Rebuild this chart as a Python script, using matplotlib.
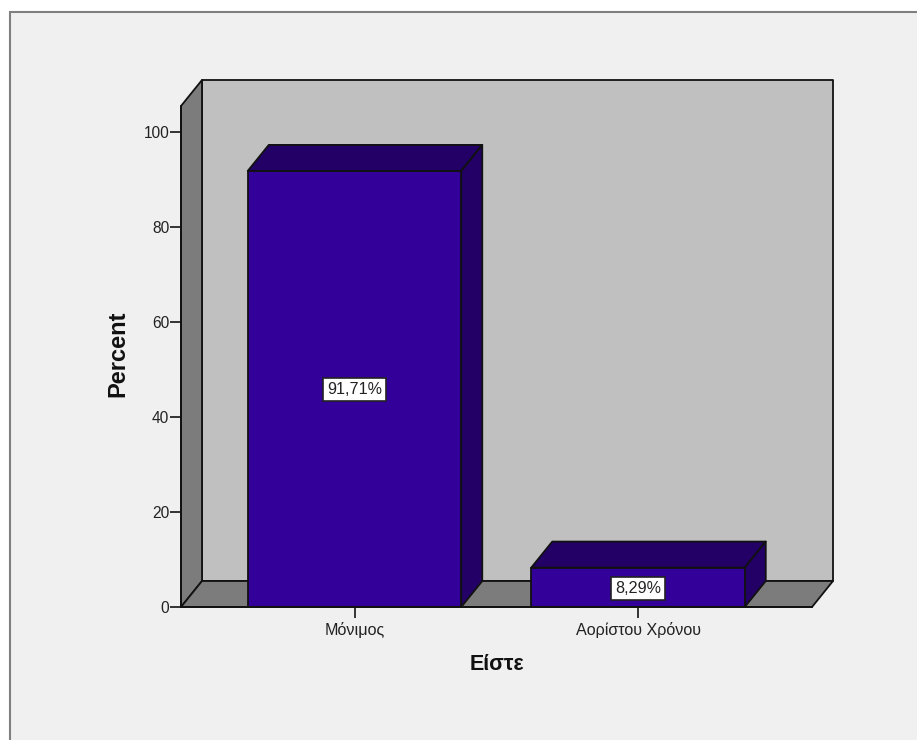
import matplotlib.pyplot as plt
from matplotlib.patches import Polygon, Rectangle

categories = ['Μόνιμος', 'Αορίστου Χρόνου']
percents = [91.71, 8.29]
percent_labels = ['91,71%', '8,29%']
y_ticks = [0, 20, 40, 60, 80, 100]

W, H = 917, 740
FRONT = '#330099'
SHADE = '#220066'
WALL = '#c0c0c0'
SIDE = '#7c7c7c'
PANEL = '#f0f0f0'

plt.rcParams['font.family'] = ['Liberation Sans', 'DejaVu Sans']

fig = plt.figure(figsize=(W / 100, H / 100), dpi=100, facecolor='white')

# chart panel runs off the right and bottom edges
fig.add_artist(Rectangle((10 / W, -0.02), 1, 1 - 12 / H + 0.02, transform=fig.transFigure,
                         facecolor=PANEL, edgecolor='#808080', linewidth=1.5, zorder=-1))

left, right, top, bottom = 181, 812, 106, 607
ax = fig.add_axes([left / W, 1 - bottom / H, (right - left) / W, (bottom - top) / H])
ax.patch.set_visible(False)

x_unit = 283.5
y_unit = 4.755
ax.set_xlim((left - 354.5) / x_unit, (right - 354.5) / x_unit)
ax.set_ylim(0, (bottom - top) / y_unit)

# depth of the 3D effect, in data units
dx = 21 / x_unit
dy = 26 / y_unit
x0, x1 = ax.get_xlim()
y1 = ax.get_ylim()[1]
bar_width = 213.5 / x_unit


def face(points, color, z):
    ax.add_patch(Polygon(points, closed=True, facecolor=color, edgecolor='#111111',
                         linewidth=1.3, joinstyle='round', clip_on=False, zorder=z))


face([(x0 + dx, dy), (x1 + dx, dy), (x1 + dx, y1 + dy), (x0 + dx, y1 + dy)], WALL, 1)
face([(x0, 0), (x0 + dx, dy), (x0 + dx, y1 + dy), (x0, y1)], SIDE, 1)
face([(x0, 0), (x1, 0), (x1 + dx, dy), (x0 + dx, dy)], SIDE, 1)

for i, value in enumerate(percents):
    a = i - bar_width / 2
    b = i + bar_width / 2
    face([(a, value), (b, value), (b + dx, value + dy), (a + dx, value + dy)], SHADE, 2)
    face([(b, 0), (b + dx, dy), (b + dx, value + dy), (b, value)], SHADE, 2)

ax.bar(range(len(percents)), percents, width=bar_width, color=FRONT,
       edgecolor='#111111', linewidth=1.3, zorder=3)

for i, value in enumerate(percents):
    ax.annotate(percent_labels[i], (i, value / 2), xytext=(0, -0.7), textcoords='offset points',
                ha='center', va='center', fontsize=11.6, color='#222222', zorder=5,
                bbox=dict(facecolor='white', edgecolor='#222222', linewidth=1.2,
                          boxstyle='square,pad=0.25'))

for side in ['top', 'right']:
    ax.spines[side].set_visible(False)
for side in ['left', 'bottom']:
    ax.spines[side].set_linewidth(1.3)
    ax.spines[side].set_color('#111111')
    ax.spines[side].set_zorder(6)

ax.set_xticks(range(len(categories)), categories)
ax.set_yticks(y_ticks)
ax.tick_params(axis='y', length=8, width=1.1, pad=0.5, labelsize=11.2, labelcolor='#222222')
ax.tick_params(axis='x', length=8, width=1.1, pad=3, labelsize=11.6, labelcolor='#222222')

fig.text(497 / W, 1 - 664 / H, 'Είστε', ha='center', va='center',
         fontsize=15.5, fontweight='bold', color='#111111')
fig.text(118 / W, 1 - 354 / H, 'Percent', ha='center', va='center', rotation=90,
         fontsize=17, fontweight='bold', color='#111111')

fig.savefig('out.png', dpi=100)
